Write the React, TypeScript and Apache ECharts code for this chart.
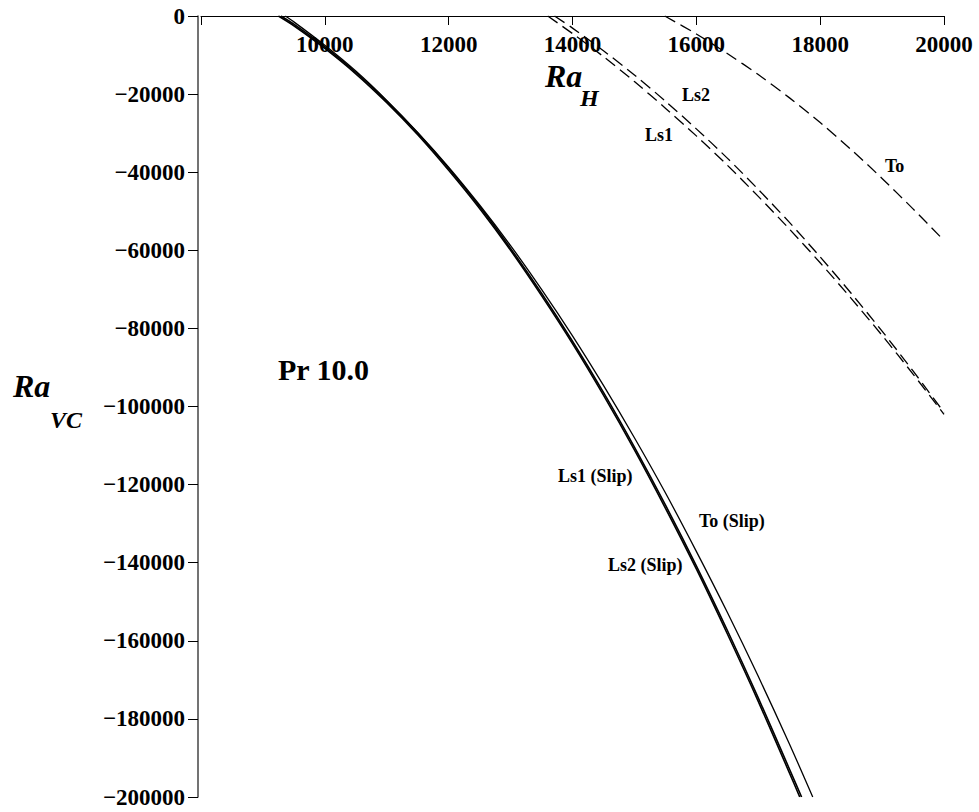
import React, { useEffect, useRef } from 'react';
import * as echarts from 'echarts';

// Ra_H values (x) and Ra_VC values (y)
const ls1SlipX = [9250, 9500, 10000, 10500, 11000, 11500, 12000, 12500, 13000, 13500, 14000, 14500, 15000, 15500, 16000, 16500, 17000, 17500, 17670];
const ls1SlipY = [0, -2500, -8300, -14800, -22200, -30400, -39500, -49300, -60000, -71600, -83900, -97100, -111100, -126000, -141600, -158200, -175500, -193700, -200000];

const ls2SlipX = [9290, 9500, 10000, 10500, 11000, 11500, 12000, 12500, 13000, 13500, 14000, 14500, 15000, 15500, 16000, 16500, 17000, 17500, 17700];
const ls2SlipY = [0, -2100, -7900, -14400, -21800, -30000, -39000, -48800, -59500, -71000, -83300, -96400, -110400, -125200, -140800, -157300, -174600, -192700, -200000];

const toSlipX = [9360, 9500, 10000, 10500, 11000, 11500, 12000, 12500, 13000, 13500, 14000, 14500, 15000, 15500, 16000, 16500, 17000, 17500, 17880];
const toSlipY = [0, -1500, -7500, -14100, -21600, -29800, -38700, -48400, -58800, -70000, -81900, -94600, -108000, -122100, -137100, -152700, -169100, -186300, -200000];

const ls1X = [13600, 14000, 14500, 15000, 15500, 16000, 16500, 17000, 17500, 18000, 18500, 19000, 19500, 20000];
const ls1Y = [0, -4500, -10400, -16800, -23600, -30700, -38200, -46200, -54500, -63200, -72300, -81800, -91700, -102000];

const ls2X = [13710, 14000, 14500, 15000, 15500, 16000, 16500, 17000, 17500, 18000, 18500, 19000, 19500, 20000];
const ls2Y = [0, -3100, -8900, -15100, -21800, -28900, -36400, -44400, -52800, -61700, -71000, -80700, -90900, -101500];

const toX = [15490, 16000, 16500, 17000, 17500, 18000, 18500, 19000, 19500, 20000];
const toY = [0, -4600, -9600, -15000, -20900, -27300, -34200, -41600, -49400, -57500];

const curveLabels = ['Ls2', 'Ls1', 'To', 'Ls1 (Slip)', 'To (Slip)', 'Ls2 (Slip)'];
const chartNote = 'Pr 10.0';

const FONT = '"Liberation Serif", "Times New Roman", serif';

const zip = (xs: number[], ys: number[]) => xs.map((x, i) => [x, ys[i]]);

export default function App() {
  const ref = useRef<HTMLDivElement>(null);
  useEffect(() => {
    if (!ref.current) return;
    const chart = echarts.init(ref.current, undefined, { renderer: 'svg' });
    const solid = (name: string, xs: number[], ys: number[], w: number) => ({
      name, type: 'line', data: zip(xs, ys), showSymbol: false, smooth: 0.3,
      lineStyle: { color: '#000', width: w, type: 'solid' }, silent: true,
    });
    const dashed = (name: string, xs: number[], ys: number[]) => ({
      name, type: 'line', data: zip(xs, ys), showSymbol: false, smooth: 0.3,
      lineStyle: { color: '#000', width: 1.3, type: [12, 6] }, silent: true,
    });
    const lbl = (text: string, x: number, baseline: number, size: number) => ({
      type: 'text', x, y: baseline - 0.34 * size,
      style: { text, font: `bold ${size}px ${FONT}`, fill: '#000', align: 'left', verticalAlign: 'middle' },
    });
    const ital = (text: string, x: number, baseline: number, size: number) => ({
      type: 'text', x, y: baseline - 0.34 * size,
      style: { text, font: `italic bold ${size}px ${FONT}`, fill: '#000', align: 'left', verticalAlign: 'middle' },
    });
    chart.setOption({
      animation: false,
      backgroundColor: '#fff',
      grid: { left: 201, right: 35, top: 16, bottom: 15 },
      xAxis: {
        type: 'value', position: 'top', min: 8000, max: 20000, interval: 2000,
        axisLine: { show: true, onZero: false, lineStyle: { color: '#000', width: 1 } },
        axisTick: { show: true, inside: true, length: 9, lineStyle: { color: '#000', width: 1 } },
        axisLabel: {
          show: true, inside: true, margin: 28, verticalAlign: 'middle',
          fontFamily: FONT, fontWeight: 'bold', fontSize: 23, color: '#000',
          formatter: (v: number) => (v === 8000 ? '' : String(v)),
        },
        splitLine: { show: false },
      },
      yAxis: {
        type: 'value', min: -200000, max: 0, interval: 20000, offset: 3,
        axisLine: { show: true, onZero: false, lineStyle: { color: '#444', width: 1.5 } },
        axisTick: { show: true, length: 10, lineStyle: { color: '#000', width: 1 } },
        axisLabel: {
          margin: 13, fontFamily: FONT, fontWeight: 'bold', fontSize: 23, color: '#000',
          formatter: (v: number) => (v === 0 ? '0' : '\u2212' + Math.abs(v)),
        },
        splitLine: { show: false },
      },
      series: [
        solid('Ls1 (Slip)', ls1SlipX, ls1SlipY, 1.6),
        solid('Ls2 (Slip)', ls2SlipX, ls2SlipY, 1.6),
        solid('To (Slip)', toSlipX, toSlipY, 1.3),
        dashed('Ls1', ls1X, ls1Y),
        dashed('Ls2', ls2X, ls2Y),
        dashed('To', toX, toY),
      ],
      graphic: [
        ital('Ra', 545, 87, 32),
        ital('H', 580, 106, 24),
        ital('Ra', 13, 397, 32),
        ital('VC', 50, 428, 24),
        lbl(chartNote, 278, 380, 30),
        lbl(curveLabels[0], 682, 101, 18),
        lbl(curveLabels[1], 645, 141, 18),
        lbl(curveLabels[2], 885, 172, 18),
        lbl(curveLabels[3], 558, 482, 18),
        lbl(curveLabels[4], 699, 527, 18),
        lbl(curveLabels[5], 608, 571, 18),
      ],
    });
    return () => chart.dispose();
  }, []);
  return <div ref={ref} style={{ position: 'fixed', left: 0, top: 0, width: 979, height: 812, background: '#fff' }} />;
}
